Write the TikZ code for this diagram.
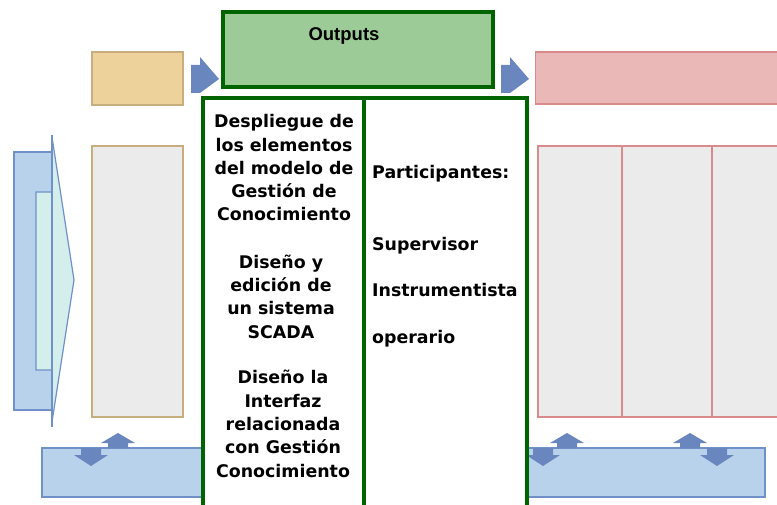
\documentclass[tikz,border=0pt]{standalone}
\usepackage{fontspec}
\setmainfont{DejaVu Sans}
\newfontfamily\headfont{Liberation Sans}
\definecolor{tanfill}{HTML}{EDD29B}
\definecolor{tanline}{HTML}{C8AD7F}
\definecolor{outfill}{HTML}{9CCB98}
\definecolor{darkgreen}{HTML}{006400}
\definecolor{pinkfill}{HTML}{EBB8B8}
\definecolor{pinkline}{HTML}{D98B8B}
\definecolor{greyfill}{HTML}{EBEBEB}
\definecolor{bluefill}{HTML}{B9D2EB}
\definecolor{blueline}{HTML}{7090C8}
\definecolor{arrblue}{HTML}{6A86BE}
\definecolor{cyanfill}{HTML}{D4EEEC}

\begin{document}
\begin{tikzpicture}[x=1pt,y=-1pt,
  box/.style={draw,rectangle,inner sep=0pt,line width=1.5pt},
  tanbox/.style={box,fill=tanfill,draw=tanline},
  pinkbox/.style={box,fill=pinkfill,draw=pinkline},
  bluebox/.style={box,fill=bluefill,draw=blueline,line width=1.2pt},
  greenbox/.style={box,draw=darkgreen,line width=4pt},
  txt/.style={font=\fontsize{17.4}{23.3}\selectfont\bfseries,align=center,anchor=base,inner sep=0pt},
  ltxt/.style={txt,anchor=base west}]
\clip (0,0) rectangle (777,505);
\fill[white] (0,0) rectangle (777,505);

% top row
\node[tanbox,minimum width=91pt,minimum height=53pt] (plan) at (137.5,78.5) {};
\node[greenbox,fill=outfill,minimum width=270pt,minimum height=75pt] (out) at (358,49.5) {};
\node[font=\headfont\fontsize{18.5}{20}\selectfont\bfseries,anchor=base,inner sep=0pt] (outtxt) at (344,41) {Outputs};
\node[pinkbox,minimum width=255pt,minimum height=52pt] (res) at (663,78) {};
\foreach \ax in {191,501}
  \fill[arrblue] (\ax,65) -- ++(9,0) -- ++(0,-8) -- ++(19,22) -- ++(-19,14) -- ++(-9,0) -- cycle;

% left side
\node[bluebox,minimum width=38pt,minimum height=258pt] (ctrl) at (33,281) {};
\filldraw[fill=cyanfill,draw=blueline,line width=1.2pt]
  (36,192) -- (52,192) -- (52,137) -- (74,280) -- (52,422) -- (52,370) -- (36,370) -- cycle;
\draw[blueline,line width=2.5pt] (52,135) -- (52,427);
\node[tanbox,fill=greyfill,minimum width=91pt,minimum height=271pt] (inp) at (137.5,281.5) {};

% right side
\node[pinkbox,fill=greyfill,minimum width=252pt,minimum height=271pt] (proc) at (664,281.5) {};
\draw[pinkline,line width=2.5pt] (622,146) -- (622,417);
\draw[pinkline,line width=1.2pt] (712,146) -- (712,417);

% bottom row
\node[bluebox,minimum width=161pt,minimum height=49pt] (recl) at (122.5,472.5) {};
\node[bluebox,minimum width=238pt,minimum height=49pt] (recr) at (646,472.5) {};
\foreach \ax in {118,567,690}
  \fill[arrblue] (\ax,433) -- ++(17,10) -- ++(-7,0) -- ++(0,5) -- ++(-20,0) -- ++(0,-5) -- ++(-7,0) -- cycle;
\foreach \ax in {91,543,717}
  \fill[arrblue] (\ax,466) -- ++(17,-11) -- ++(-7,0) -- ++(0,-7) -- ++(-20,0) -- ++(0,7) -- ++(-7,0) -- cycle;

% activities
\node[greenbox,fill=white,minimum width=324pt,minimum height=422pt] (act) at (365,309) {};
\draw[darkgreen,line width=4pt] ([xshift=-1pt]act.north) -- ([xshift=-1pt]act.south);

% base = last line
\node[txt] (t1) at (284,221) {Despliegue de\\los elementos\\del modelo de\\Gesti\'on de\\Conocimiento};
\node[txt] (t2) at (281,338) {Dise\~no y\\edici\'on de\\un sistema\\SCADA};
\node[txt] (t3) at (283,477) {Dise\~no la\\Interfaz\\relacionada\\con Gesti\'on\\Conocimiento};

\node[ltxt] (p0) at (372,179) {Participantes:};
\node[ltxt] (p1) at (372,251) {Supervisor};
\node[ltxt] (p2) at (372,297) {Instrumentista};
\node[ltxt] (p3) at (372,343) {operario};
\end{tikzpicture}
\end{document}
